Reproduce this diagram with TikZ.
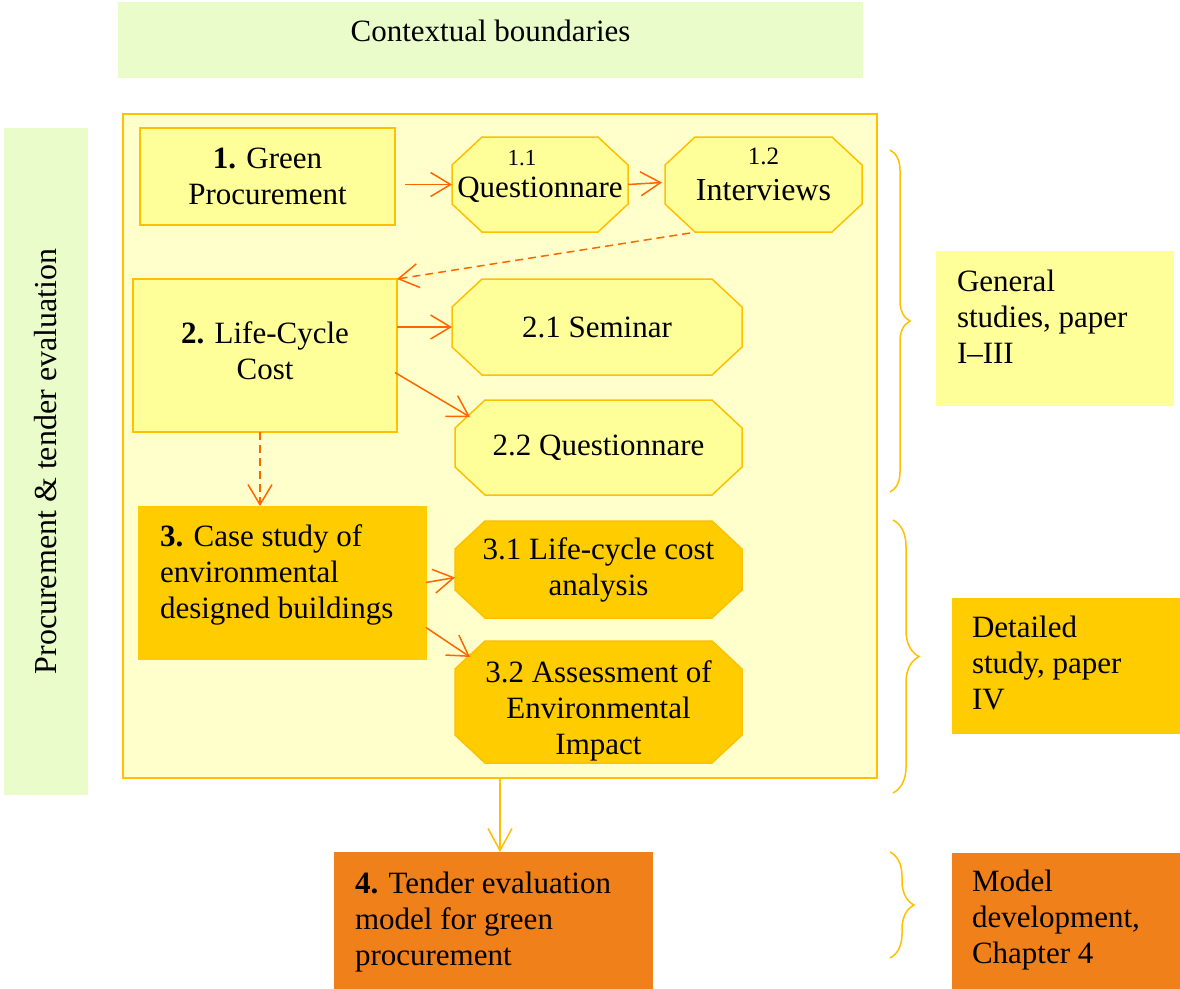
\documentclass[tikz,border=0pt]{standalone}
\usepackage{fontspec}
\setmainfont{Liberation Serif}
\usetikzlibrary{arrows.meta,decorations.pathreplacing,calc}
\definecolor{lgreen}{RGB}{234,252,202}
\definecolor{paleyel}{RGB}{255,255,204}
\definecolor{yelbox}{RGB}{255,255,153}
\definecolor{goldc}{RGB}{255,204,0}
\definecolor{goldline}{RGB}{255,192,0}
\definecolor{orangec}{RGB}{240,128,26}
\definecolor{arrowc}{RGB}{255,102,0}
\newcommand\octcx{30}
\newcommand\octcy{28}
% name, cx, cy, w, h, fill, text
\newcommand\octnode[7]{%
  \filldraw[octline,fill=#6]
    ({#2-#4/2+\octcx},{#3-#5/2}) -- ({#2+#4/2-\octcx},{#3-#5/2}) --
    ({#2+#4/2},{#3-#5/2+\octcy}) -- ({#2+#4/2},{#3+#5/2-\octcy}) --
    ({#2+#4/2-\octcx},{#3+#5/2}) -- ({#2-#4/2+\octcx},{#3+#5/2}) --
    ({#2-#4/2},{#3+#5/2-\octcy}) -- ({#2-#4/2},{#3-#5/2+\octcy}) -- cycle;
  \node[txt, minimum width=#4, minimum height=#5] (#1) at (#2,#3) {#7};}
\begin{document}
\begin{tikzpicture}[x=1pt,y=-1pt,
  txt/.style={inner sep=0pt, outer sep=0pt, align=center, font=\fontsize{31}{36}\selectfont},
  octline/.style={draw=goldline, line width=1.5pt},
  rbox/.style={txt, rectangle, draw=goldline, line width=1.5pt, fill=yelbox},
  gbox/.style={txt, rectangle, fill=goldc, draw=goldc},
  obox/.style={txt, rectangle, fill=orangec, draw=orangec},
  lgbox/.style={txt, rectangle, fill=lgreen},
  frame/.style={rectangle, draw=goldline, line width=2pt, fill=paleyel, inner sep=0pt, outer sep=0pt},
  conn/.style={draw=arrowc, line width=1.5pt, -{Straight Barb[length=20pt,width=24pt]}},
  dconn/.style={conn, dash pattern=on 8pt off 5pt},
  gconn/.style={draw=goldline, line width=1.5pt, -{Straight Barb[length=22pt,width=24pt]}},
  brc/.style={draw=goldline, line width=1.5pt, decorate, decoration={brace, amplitude=#1}}
]
\useasboundingbox (0,0) rectangle (1180,988);
\fill[white] (0,0) rectangle (1180,988);

% context and side bar
\node[lgbox, minimum width=745, minimum height=76, text height=21pt, text depth=19pt] (ctx) at (490.5,40) {Contextual boundaries};
\node[lgbox, rotate=90, minimum width=667, minimum height=84, font=\fontsize{32}{36}\selectfont] (side) at (46,461.5) {Procurement \& tender evaluation};

% main frame
\node[frame, minimum width=754, minimum height=664] (frame) at (500,446) {};

% boxes
\node[rbox, minimum width=255, minimum height=97] (b1) at (267.5,176.5) {\textbf{1.} Green\\Procurement};
\node[rbox, minimum width=264, minimum height=153] (b2) at (265,355.5) {\textbf{2.} Life-Cycle\\Cost\rule[-10pt]{0pt}{1pt}};
\node[gbox, minimum width=288, minimum height=153] (b3) at (282,582.5) {};
\node[txt, align=left, anchor=north west] (b3t) at ($(b3.north west)+(22,19)$) {\textbf{3.} Case study of\\environmental\\designed buildings};
\node[obox, minimum width=318, minimum height=136] (b4) at (493,920) {};
\node[txt, align=left, anchor=north west] (b4t) at ($(b4.north west)+(21,20)$) {\textbf{4.} Tender evaluation\\model for green\\procurement};

% octagons
\octnode{o11}{540}{184.5}{176}{95}{yelbox}{{\fontsize{23}{26}\selectfont 1.1\hspace*{36pt}}\\[-4pt]Questionnare\rule[-21pt]{0pt}{1pt}}
\octnode{o12}{763.5}{184.5}{197}{95}{yelbox}{{\fontsize{25}{28}\selectfont 1.2}\\{\fontsize{32}{36}\selectfont Interviews}\rule[-20pt]{0pt}{1pt}}
\octnode{o21}{597}{327}{290}{96}{yelbox}{2.1 Seminar}
\octnode{o22}{598.5}{447.5}{287}{95}{yelbox}{2.2 Questionnare}
\octnode{o31}{598.5}{569.5}{287}{97}{goldc}{3.1 Life-cycle cost\\analysis}
\octnode{o32}{598.5}{702}{287}{122}{goldc}{\rule{0pt}{39pt}3.2 Assessment of\\Environmental\\Impact}

% right labels
\node[rbox, draw=yelbox, minimum width=236, minimum height=153] (gen) at (1055,328.5) {};
\node[txt, align=left, anchor=north west] (gent) at ($(gen.north west)+(20,18)$) {General\\studies, paper\\I--III};
\node[gbox, minimum width=228, minimum height=135] (det) at (1066,665.5) {};
\node[txt, align=left, anchor=north west] (dett) at ($(det.north west)+(20,18)$) {Detailed\\study, paper\\IV};
\node[obox, minimum width=228, minimum height=135] (mod) at (1066,920.5) {};
\node[txt, align=left, anchor=north west] (modt) at ($(mod.north west)+(20,17)$) {Model\\development,\\Chapter 4};

% braces
\coordinate (br1a) at (890,150); \coordinate (br1b) at (890,492);
\coordinate (br2a) at (893,520); \coordinate (br2b) at (893,793);
\coordinate (br3a) at (890,852); \coordinate (br3b) at (890,958);
\draw[brc=20pt] (br1a) -- (br1b);
\draw[brc=26pt] (br2a) -- (br2b);
\draw[brc=24pt] (br3a) -- (br3b);

% connectors
\coordinate (s1) at ($(b1.east |- o11.west)+(10,0)$);
\draw[conn] (s1) -- (o11.west);
\draw[conn] (o11.east) -- ($(o12.west)+(-3,-2)$);
\draw[dconn] ($(o12.south west)+(25,1)$) -- (b2.north east);
\draw[conn] (b2.east |- o21.west) -- (o21.west);
\draw[conn] ($(b2.east)+(-2,17)$) -- ($(o22.north west)+(15,17)$);
\coordinate (d1) at ($(b2.south)+(-5,0)$);
\draw[dconn] (d1) -- (d1 |- b3.north);
\draw[conn] (b3.east) -- ($(o31.west)+(0,8)$);
\draw[conn] ($(b3.east)+(0,45)$) -- ($(o32.north west)+(15,16)$);
\draw[gconn] (frame.south) -- (frame.south |- b4.north);
\end{tikzpicture}
\end{document}
